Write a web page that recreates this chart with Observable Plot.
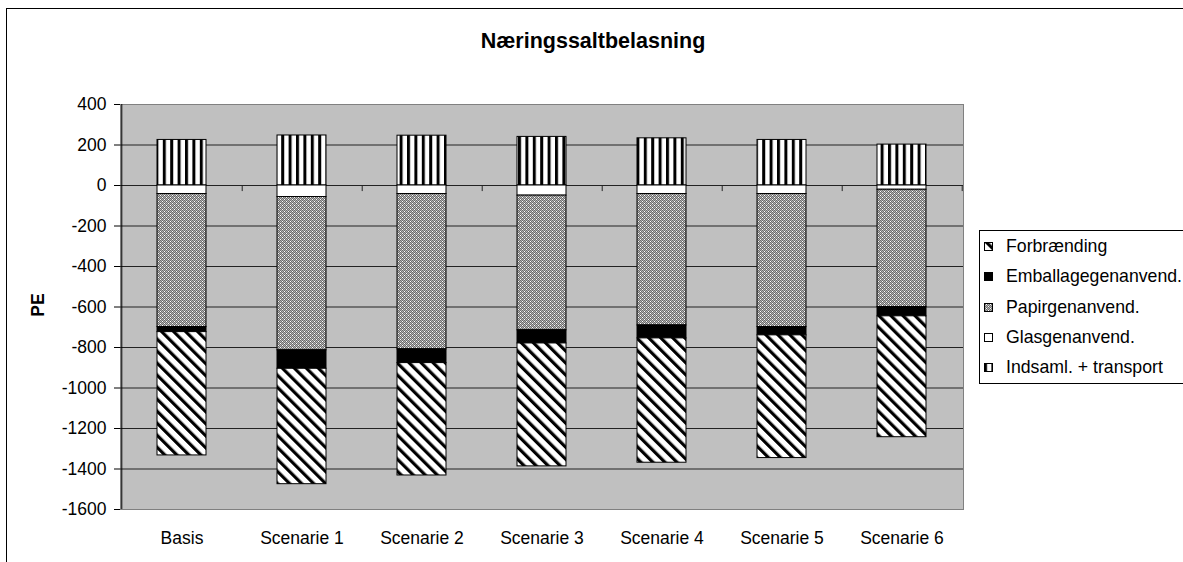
<!DOCTYPE html>
<html>
<head>
<meta charset="utf-8">
<script src="https://cdn.jsdelivr.net/npm/d3@7"></script>
<script src="https://cdn.jsdelivr.net/npm/@observablehq/plot@0.6"></script>
<style>
  body { margin: 0; background: #fff; }
  #wrap { position: relative; width: 1183px; height: 562px; overflow: hidden; background: #fff;
          font-family: "Liberation Sans", Arial, sans-serif; color: #000; }
  #border { position: absolute; left: 6px; top: 8px; width: 1400px; height: 800px; border: 1px solid #000; }
  #title { position: relative; height: 33px; padding-top: 31px; width: 1186px; text-align: center;
           font-weight: bold; font-size: 21.5px; line-height: 21.5px; }
  #ylabel { position: absolute; left: 37.5px; top: 305px; transform: translate(-50%, -50%) rotate(-90deg);
            font-weight: bold; font-size: 17.5px; line-height: 18px; white-space: nowrap; }
  #legend { position: absolute; left: 979px; top: 230px; width: 260px; height: 152px;
            border: 1px solid #000; background: #fff; }
  .lrow { position: absolute; left: 0; height: 20px; display: flex; align-items: center; white-space: nowrap; }
  .lrow svg { position: absolute; left: 4px; top: 6px; }
  .lrow span { position: absolute; left: 26px; top: 0; font-size: 17.7px; line-height: 20px; }
</style>
</head>
<body>
<svg width="0" height="0" style="position:absolute">
  <defs>
    <pattern id="pVert" patternUnits="userSpaceOnUse" width="7.4" height="10">
      <rect width="7.4" height="10" fill="#fff"/>
      <rect x="0" width="3" height="10" fill="#000"/>
    </pattern>
    <pattern id="pDiag" patternUnits="userSpaceOnUse" width="8.5" height="10" patternTransform="rotate(-45)">
      <rect width="8.5" height="10" fill="#fff"/>
      <rect width="3.2" height="10" fill="#000"/>
    </pattern>
    <pattern id="pChk" patternUnits="userSpaceOnUse" width="4" height="4">
      <rect width="4" height="4" fill="#6c6c6c"/>
      <rect x="1" y="0" width="1" height="1" fill="#b4b4b4"/>
      <rect x="3" y="0" width="1" height="1" fill="#b4b4b4"/>
      <rect x="0" y="1" width="1" height="1" fill="#b4b4b4"/>
      <rect x="2" y="1" width="1" height="1" fill="#ffffff"/>
      <rect x="1" y="2" width="1" height="1" fill="#b4b4b4"/>
      <rect x="3" y="2" width="1" height="1" fill="#b4b4b4"/>
      <rect x="0" y="3" width="1" height="1" fill="#ffffff"/>
      <rect x="2" y="3" width="1" height="1" fill="#b4b4b4"/>
    </pattern>
  </defs>
</svg>
<div id="wrap">
  <div id="border"></div>
  <div id="title">Næringssaltbelasning</div>
  <div id="chart"></div>
  <div id="ylabel">PE</div>
  <div id="legend"></div>
</div>
<script>
// ---- data ----
const categories = ["Basis", "Scenarie 1", "Scenarie 2", "Scenarie 3", "Scenarie 4", "Scenarie 5", "Scenarie 6"];
const seriesNames = ["Indsaml. + transport", "Glasgenanvend.", "Papirgenanvend.", "Emballagegenanvend.", "Forbrænding"];
const indsaml      = [225, 247, 246, 240, 233, 225, 202];
const glas         = [-42, -57, -42, -50, -42, -42, -21];
const papir        = [-657, -757, -767, -665, -649, -657, -579];
const emballage    = [-25, -91, -68, -65, -64, -41, -46];
const forbraending = [-609, -570, -555, -607, -614, -606, -597];
const yTicks = [400, 200, 0, -200, -400, -600, -800, -1000, -1200, -1400, -1600];
const yDomain = [-1600, 400];
const legendOrder = ["Forbrænding", "Emballagegenanvend.", "Papirgenanvend.", "Glasgenanvend.", "Indsaml. + transport"];

// ---- styles ----
const seriesFills = ["url(#pVert)", "#ffffff", "url(#pChk)", "#000000", "url(#pDiag)"];
const seriesValues = [indsaml, glas, papir, emballage, forbraending];

const data = categories.flatMap((c, i) =>
  seriesNames.map((s, j) => ({cat: c, series: s, value: seriesValues[j][i]})));

const W = 1183, H = 498, mL = 120, mR = 220, mT = 40, mB = 53;
const half = (W - mL - mR) / categories.length / 2;

const plot = Plot.plot({
  width: W, height: H,
  marginLeft: mL, marginRight: mR, marginTop: mT, marginBottom: mB,
  style: {fontFamily: "'Liberation Sans', Arial, sans-serif", fontSize: "17.5px", color: "#000", background: "transparent", overflow: "visible"},
  x: {domain: categories, paddingInner: 0.59, paddingOuter: 0.295, label: null, tickSize: 0, tickPadding: 22},
  y: {domain: yDomain, ticks: yTicks, tickFormat: d => String(d), tickSize: 6, tickPadding: 8, label: null},
  color: {type: "ordinal", domain: seriesNames, range: seriesFills},
  marks: [
    Plot.frame({fill: "#c0c0c0", stroke: "#808080"}),
    Plot.ruleY(yTicks.filter(t => t !== yDomain[0] && t !== yDomain[1] && t !== 0), {stroke: "#222", strokeWidth: 1}),
    Plot.ruleY([0], {stroke: "#222", strokeWidth: 1}),
    Plot.ruleX(categories, {x: d => d, y1: 0, y2: -30, dx: half, stroke: "#222"}),
    Plot.barY(data, Plot.stackY({x: "cat", y: "value", fill: "series", stroke: "#000", strokeWidth: 1})),
    Plot.ruleX([categories[0]], {x: d => d, y1: yDomain[0], y2: yDomain[1], dx: -half, stroke: "#000"})
  ]
});
document.getElementById("chart").appendChild(plot);

// ---- legend ----
const legend = document.getElementById("legend");
legendOrder.forEach((name, i) => {
  const row = document.createElement("div");
  row.className = "lrow";
  row.style.top = (5 + 30.3 * i) + "px";
  const fill = seriesFills[seriesNames.indexOf(name)];
  row.innerHTML = `<svg width="9" height="9"><rect x="0.5" y="0.5" width="8" height="8" fill="${fill}" stroke="#000" stroke-width="1"/></svg><span>${name}</span>`;
  legend.appendChild(row);
});
</script>
</body>
</html>
